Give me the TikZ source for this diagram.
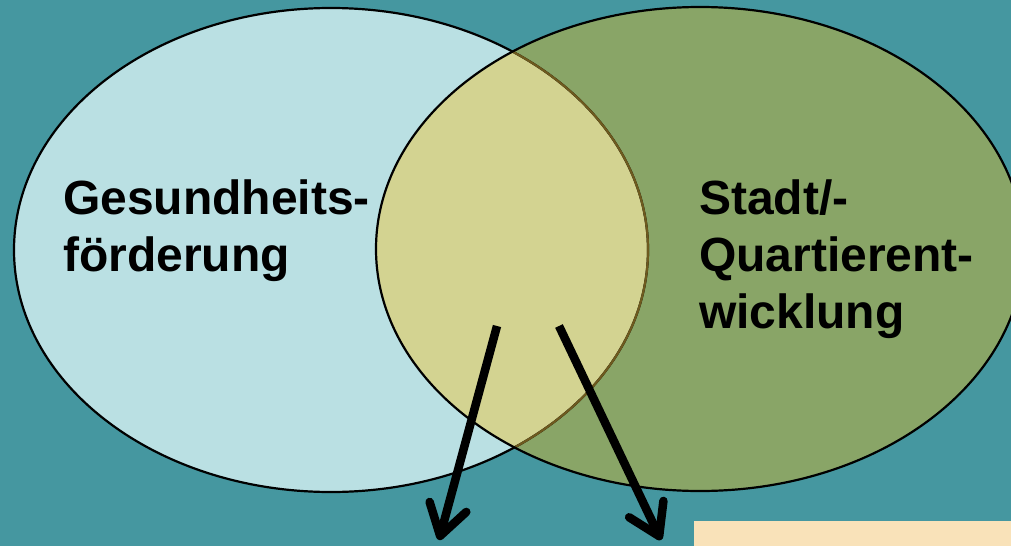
\documentclass[tikz,border=0pt]{standalone}
\usepackage{fontspec}
\setmainfont{Liberation Sans}
\usetikzlibrary{arrows.meta}
\definecolor{bgteal}{HTML}{4597A0}
\definecolor{leftblue}{HTML}{BAE0E3}
\definecolor{rightgreen}{HTML}{89A567}
\definecolor{overlapyellow}{HTML}{D3D391}
\definecolor{boxbeige}{HTML}{F9E2B9}
\definecolor{innerbrown}{HTML}{6E5A1E}
\tikzset{
  rimline/.style={line width=2.2pt},
  bigtext/.style={font=\bfseries\fontsize{48}{57}\selectfont, inner sep=0pt, anchor=base west, text=black},
  bigarrow/.style={line width=8.5pt, -{Straight Barb[length=30pt,width=38pt,line width=8.5pt,round]}}
}
\begin{document}
\begin{tikzpicture}[x=1pt,y=-1pt]
\useasboundingbox (0,0) rectangle (1011,546);
\fill[bgteal] (0,0) rectangle (1011,546);
\clip (0,0) rectangle (1011,546);
\coordinate (lc) at (331,250);
\coordinate (rc) at (700,249);
% fills
\fill[leftblue] (lc) ellipse [x radius=317, y radius=242];
\fill[rightgreen] (rc) ellipse [x radius=324, y radius=242];
\begin{scope}
  \clip (lc) ellipse [x radius=317, y radius=242];
  \fill[overlapyellow] (rc) ellipse [x radius=324, y radius=242];
\end{scope}
% borders
\draw[rimline, black] (lc) ellipse [x radius=317, y radius=242];
\begin{scope}
  \clip (rc) ellipse [x radius=324, y radius=242];
  \draw[rimline, innerbrown] (lc) ellipse [x radius=317, y radius=242];
\end{scope}
\draw[rimline, black] (rc) ellipse [x radius=324, y radius=242];
% beige box
\fill[boxbeige] (694,521) rectangle (1011,546);
% texts
\node[bigtext] (g1) at (63,214) {Gesundheits-};
\node[bigtext] (g2) at (63,271) {förderung};
\node[bigtext] (s1) at (699,214) {Stadt/-};
\node[bigtext] (s2) at (699,271) {Quartierent-};
\node[bigtext] (s3) at (699,328) {wicklung};
% arrows
\coordinate (a1s) at (497,326);
\coordinate (a1e) at (439,540);
\coordinate (a2s) at (559,326);
\coordinate (a2e) at (661,540);
\draw[bigarrow] (a1s) -- (a1e);
\draw[bigarrow] (a2s) -- (a2e);
\end{tikzpicture}
\end{document}
